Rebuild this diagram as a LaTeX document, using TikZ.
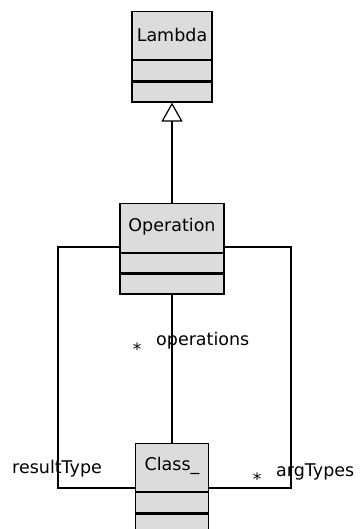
\documentclass[tikz,border=0pt]{standalone}
\usepackage{fontspec}
\setmainfont{DejaVu Sans}
\usetikzlibrary{arrows.meta}
\definecolor{boxfill}{RGB}{220,220,220}
\tikzset{
  umlpart/.style={draw=black, fill=boxfill, line width=1.2pt, inner sep=0pt, anchor=north},
  umltext/.style={font=\fontsize{17.5}{20}\selectfont, inner sep=0pt},
  startext/.style={font=\fontsize{17}{20}\selectfont, inner sep=0pt},
  conn/.style={draw=black, line width=1.2pt},
}
\begin{document}
\begin{tikzpicture}[x=1pt,y=-1pt]
\useasboundingbox[fill=white] (0,0) rectangle (363,529);
% Lambda
\node[umlpart, minimum width=80pt, minimum height=48pt] (lamH) at (172,11) {};
\node[umlpart, minimum width=80pt, minimum height=20pt] (lamA) at (lamH.south) {};
\node[umlpart, minimum width=80pt, minimum height=20pt] (lamB) at (lamA.south) {};
\node[umltext] (lamT) at (172,35) {Lambda};
% Operation
\node[umlpart, minimum width=104pt, minimum height=49pt] (opH) at (172,203) {};
\node[umlpart, minimum width=104pt, minimum height=19pt] (opA) at (opH.south) {};
\node[umlpart, minimum width=104pt, minimum height=20pt] (opB) at (opA.south) {};
\node[umltext] (opT) at (172,227) {Operation};
% Class_
\node[umlpart, minimum width=73pt, minimum height=48pt] (clH) at (172,443) {};
\node[umlpart, minimum width=73pt, minimum height=20pt] (clA) at (clH.south) {};
\node[umlpart, minimum width=73pt, minimum height=20pt] (clB) at (clA.south) {};
\node[umltext] (clT) at (172,466) {Class\_};
% generalization
\draw[conn, -{Triangle[open, width=21pt, length=19pt, line width=1.2pt]}] (opH.north) -- (lamB.south);
% operations association
\draw[conn] (opB.south) -- (clH.north);
% resultType
\coordinate (rl1) at (58,247);
\coordinate (rl2) at (58,488);
\draw[conn] (opH.west |- rl1) -- (rl1) -- (rl2) -- (clH.west |- rl2);
% argTypes
\coordinate (ar1) at (291,247);
\coordinate (ar2) at (291,488);
\draw[conn] (opH.east |- ar1) -- (ar1) -- (ar2) -- (clH.east |- ar2);
% labels
\node[startext] (st1) at (137,349) {*};
\node[umltext, anchor=west] (lbOps) at (156,341) {operations};
\node[umltext, anchor=west] (lbRes) at (12,469) {resultType};
\node[startext] (st2) at (257,479) {*};
\node[umltext, anchor=west] (lbArg) at (276,472) {argTypes};
\end{tikzpicture}
\end{document}
